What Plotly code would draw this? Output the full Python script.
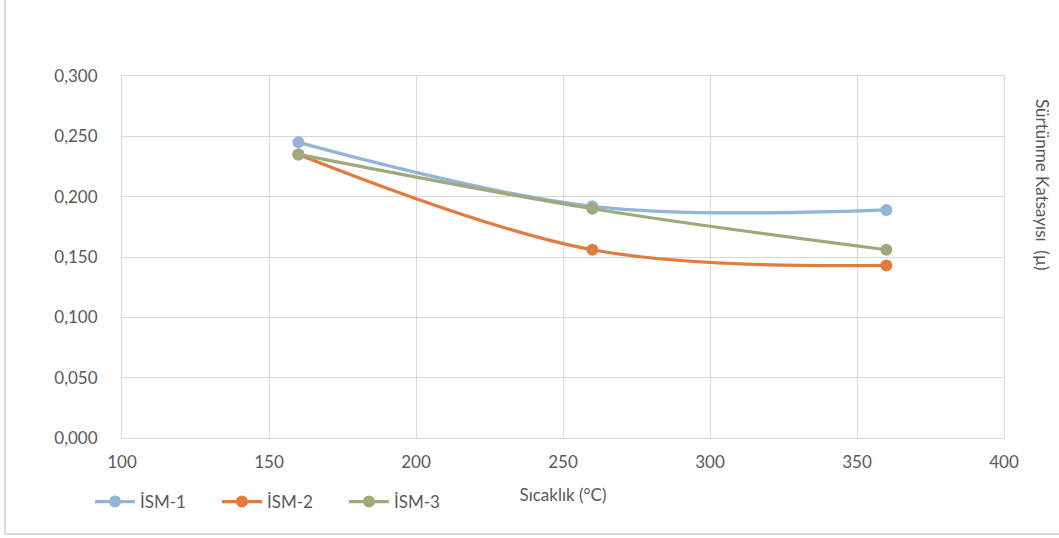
import plotly.graph_objects as go

temps = [160, 260, 360]
ism1 = [0.245, 0.192, 0.189]
ism2 = [0.235, 0.156, 0.143]
ism3 = [0.235, 0.190, 0.156]
series_names = ["İSM-1", "İSM-2", "İSM-3"]
colors = ["#93b4d6", "#e07c3e", "#9eaa79"]

W, H = 1059, 538
L, R, T, B = 122, 55, 76, 100
pw, ph = W - L - R, H - T - B

def px_x(x):
    return (x - L) / pw

def px_y(y):
    return (H - B - y) / ph

fig = go.Figure()
for name, vals, c in zip(series_names, [ism1, ism2, ism3], colors):
    fig.add_trace(go.Scatter(
        x=temps, y=vals, name=name, mode="lines+markers",
        line=dict(color=c, width=3.2, shape="spline", smoothing=1),
        marker=dict(color=c, size=12),
    ))

font_fam = "Lato, 'Open Sans', sans-serif"
fig.update_layout(
    width=W, height=H,
    margin=dict(l=L, r=R, t=T, b=B),
    paper_bgcolor="white", plot_bgcolor="white",
    separators=",.",
    font=dict(family=font_fam, size=17, color="#595959"),
    showlegend=True,
    legend=dict(orientation="h", x=px_x(90), xanchor="left", y=px_y(502), yanchor="middle",
                font=dict(size=17, color="#595959"), entrywidth=72, entrywidthmode="pixels",
                itemwidth=40),
    xaxis=dict(range=[100, 400], tickvals=[100, 150, 200, 250, 300, 350, 400],
               showgrid=True, gridcolor="#d9d9d9", gridwidth=1,
               showline=True, linecolor="#d9d9d9", mirror=True, zeroline=False,
               ticks="", ticklabelstandoff=9, tickfont=dict(size=17, color="#595959"),
               title=dict(text="Sıcaklık (°C)", font=dict(size=17, color="#595959"), standoff=17)),
    yaxis=dict(range=[0, 0.3], tickvals=[0, 0.05, 0.1, 0.15, 0.2, 0.25, 0.3], tickformat=".3f",
               showgrid=True, gridcolor="#d9d9d9", gridwidth=1,
               showline=True, linecolor="#d9d9d9", mirror=True, zeroline=False,
               ticks="", ticklabelstandoff=20, tickfont=dict(size=17, color="#595959")),
)

fig.add_annotation(text="Sürtünme Katsayısı  (µ)", xref="paper", yref="paper",
                   x=px_x(1043), y=px_y(184), textangle=90, showarrow=False,
                   font=dict(size=17, color="#595959"), xanchor="center", yanchor="middle")

# outer chart border (left and bottom visible)
fig.add_shape(type="line", xref="paper", yref="paper", x0=px_x(5), x1=px_x(5), y0=px_y(0), y1=px_y(534),
              line=dict(color="#d9d9d9", width=2))
fig.add_shape(type="line", xref="paper", yref="paper", x0=px_x(5), x1=px_x(1059), y0=px_y(534), y1=px_y(534),
              line=dict(color="#d9d9d9", width=2))

fig.write_html("out.html", config={"displayModeBar": False},
               post_script="document.body.style.margin='0px';document.body.style.overflow='hidden';")
